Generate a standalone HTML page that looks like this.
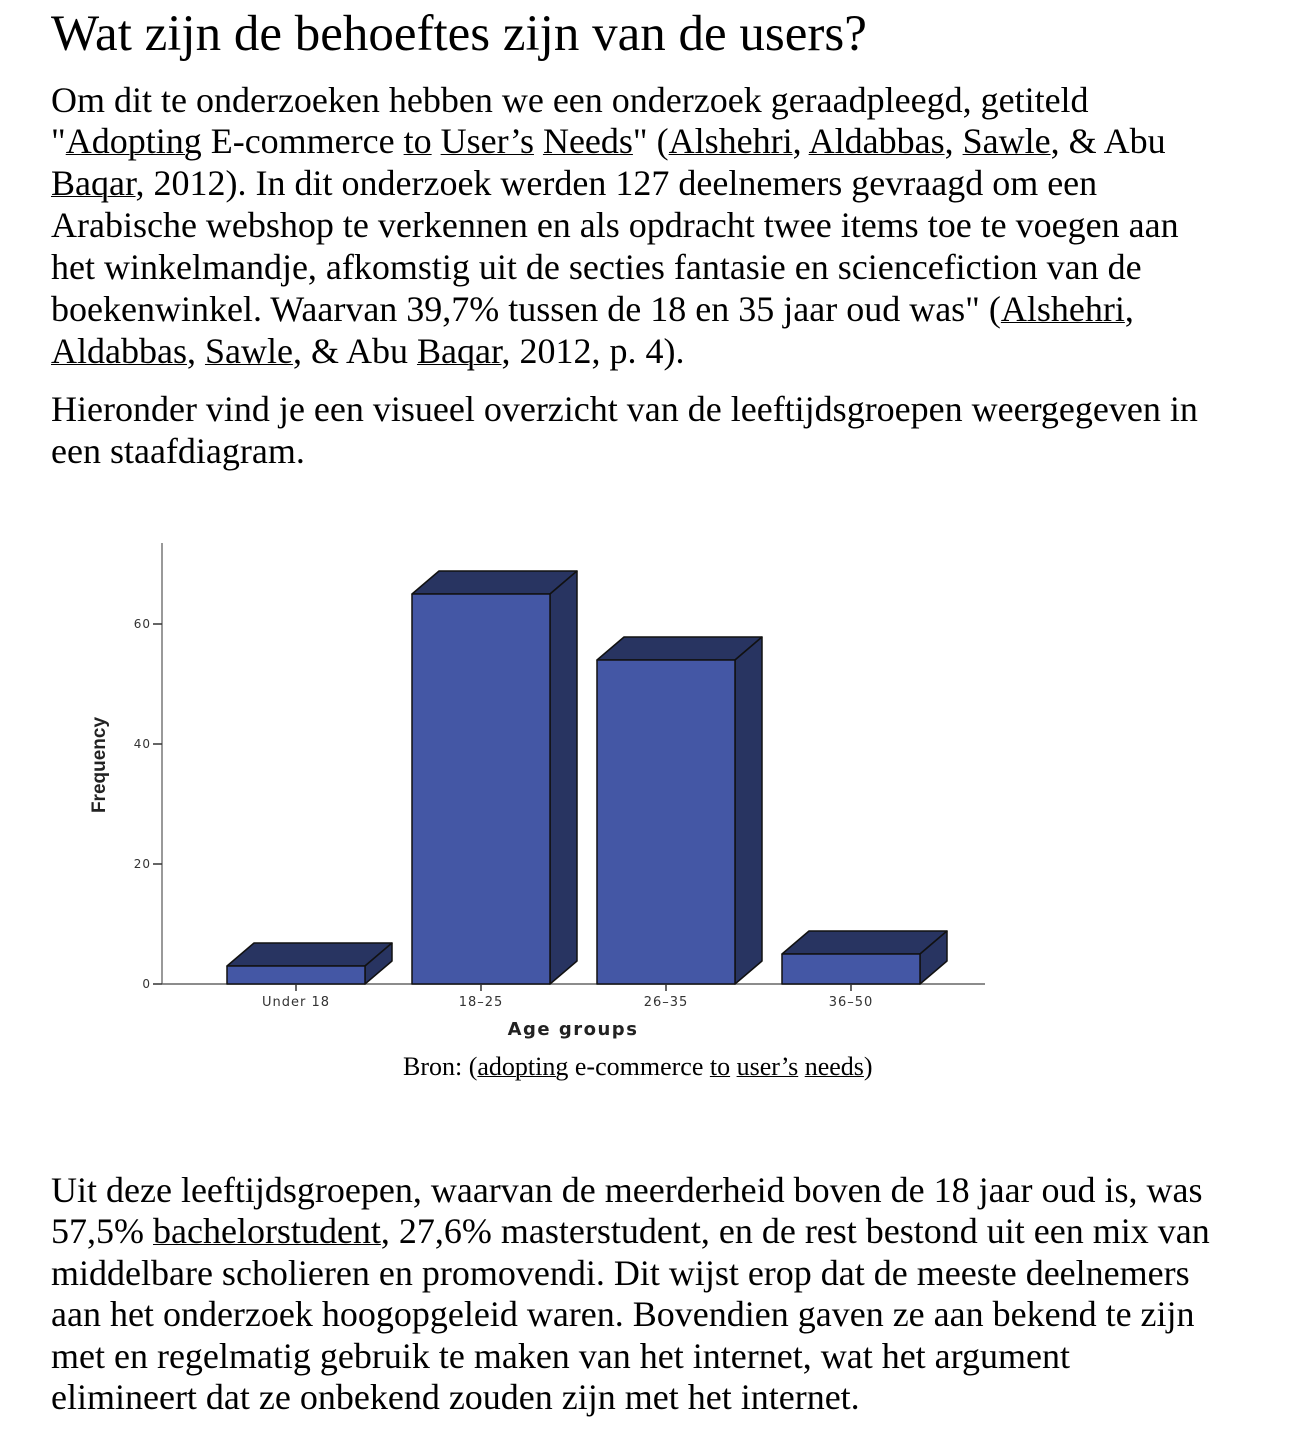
<!DOCTYPE html>
<html><head><meta charset="utf-8"><style>
body{margin:0;width:1290px;height:1430px;background:#fff;position:relative;overflow:hidden;font-family:"Liberation Serif",serif;color:#000}
.l{position:absolute;left:51px;font-size:36px;white-space:nowrap;line-height:36px}
.u{text-decoration:underline;text-decoration-color:#000;text-decoration-thickness:1px}
h1{position:absolute;left:51px;top:4px;margin:0;font-weight:normal;font-size:51px;line-height:60px;white-space:nowrap}
</style></head><body>
<h1>Wat zijn de behoeftes zijn van de users?</h1>
<div>
<div class="l" style="top:82px">Om dit te onderzoeken hebben we een onderzoek geraadpleegd, getiteld</div>
<div class="l" style="top:123px">"<span class="u">Adopting</span> E-commerce <span class="u">to</span> <span class="u">User’s</span> <span class="u">Needs</span>" (<span class="u">Alshehri</span>, <span class="u">Aldabbas</span>, <span class="u">Sawle</span>, &amp; Abu</div>
<div class="l" style="top:165px"><span class="u">Baqar</span>, 2012). In dit onderzoek werden 127 deelnemers gevraagd om een</div>
<div class="l" style="top:207px">Arabische webshop te verkennen en als opdracht twee items toe te voegen aan</div>
<div class="l" style="top:249px">het winkelmandje, afkomstig uit de secties fantasie en sciencefiction van de</div>
<div class="l" style="top:291px">boekenwinkel. Waarvan 39,7% tussen de 18 en 35 jaar oud was" (<span class="u">Alshehri</span>,</div>
<div class="l" style="top:333px"><span class="u">Aldabbas</span>, <span class="u">Sawle</span>, &amp; Abu <span class="u">Baqar</span>, 2012, p. 4).</div>
</div>
<div>
<div class="l" style="top:391px">Hieronder vind je een visueel overzicht van de leeftijdsgroepen weergegeven in</div>
<div class="l" style="top:433px">een staafdiagram.</div>
</div>
<svg id="chart" style="position:absolute;left:0;top:0" width="1290" height="1100"></svg>
<div style="position:absolute;left:403px;top:1052px;font-size:26px;line-height:30px;white-space:nowrap">Bron: (<span class="u">adopting</span> e-commerce <span class="u">to</span> <span class="u">user’s</span> <span class="u">needs</span>)</div>
<div>
<div class="l" style="top:1172px">Uit deze leeftijdsgroepen, waarvan de meerderheid boven de 18 jaar oud is, was</div>
<div class="l" style="top:1213px">57,5% <span class="u">bachelorstudent</span>, 27,6% masterstudent, en de rest bestond uit een mix van</div>
<div class="l" style="top:1255px">middelbare scholieren en promovendi. Dit wijst erop dat de meeste deelnemers</div>
<div class="l" style="top:1296px">aan het onderzoek hoogopgeleid waren. Bovendien gaven ze aan bekend te zijn</div>
<div class="l" style="top:1338px">met en regelmatig gebruik te maken van het internet, wat het argument</div>
<div class="l" style="top:1379px">elimineert dat ze onbekend zouden zijn met het internet.</div>
</div>
<script>
const categories=["Under 18","18–25","26–35","36–50"];
const values=[3,65,54,5];
const yTicks=[0,20,40,60];
const svg=document.getElementById('chart');
const NS='http://www.w3.org/2000/svg';
const x0=162,y0=984,ppu=6,step=185,firstC=296,bw=138,dx=27,dy=23;
const yS=v=>y0-v*ppu;
const xC=i=>firstC+i*step;
function mk(t,a){const e=document.createElementNS(NS,t);for(const k in a)e.setAttribute(k,a[k]);svg.appendChild(e);return e;}
let e=mk('line',{x1:x0,y1:543,x2:x0,y2:y0,stroke:'#999','stroke-width':2});

e=mk('line',{x1:x0,y1:y0,x2:985,y2:y0,stroke:'#666','stroke-width':1.5});

yTicks.forEach(v=>{
 let t=mk('line',{x1:x0-9,y1:yS(v),x2:x0,y2:yS(v),stroke:'#333','stroke-width':1.5});
 
 let l=mk('text',{x:x0-11,y:yS(v)+4,'text-anchor':'end','font-size':12,'font-family':'DejaVu Sans, sans-serif',fill:'#333','letter-spacing':'1'});
 l.textContent=v;
});
categories.forEach((c,i)=>{
 const xl=xC(i)-bw/2,xr=xl+bw,yt=yS(values[i]);
 let g=mk('g',{});
 const st={stroke:'#111','stroke-width':1.5,'stroke-linejoin':'round'};
 const p1=document.createElementNS(NS,'polygon');
 p1.setAttribute('points',`${xl},${yt} ${xl+dx},${yt-dy} ${xr+dx},${yt-dy} ${xr},${yt}`);
 p1.setAttribute('fill','#283461');for(const k in st)p1.setAttribute(k,st[k]);g.appendChild(p1);
 const p2=document.createElementNS(NS,'polygon');
 p2.setAttribute('points',`${xr},${yt} ${xr+dx},${yt-dy} ${xr+dx},${y0-dy} ${xr},${y0}`);
 p2.setAttribute('fill','#283461');for(const k in st)p2.setAttribute(k,st[k]);g.appendChild(p2);
 const r=document.createElementNS(NS,'rect');
 r.setAttribute('x',xl);r.setAttribute('y',yt);r.setAttribute('width',bw);r.setAttribute('height',y0-yt);
 r.setAttribute('fill','#4457a5');for(const k in st)r.setAttribute(k,st[k]);g.appendChild(r);
 let t=mk('line',{x1:xC(i),y1:y0,x2:xC(i),y2:y0+7,stroke:'#333','stroke-width':1.5});
 
 let l=mk('text',{x:xC(i),y:y0+22,'text-anchor':'middle','font-size':13,'font-family':'DejaVu Sans, sans-serif',fill:'#333','letter-spacing':'1'});
 l.textContent=c;
});
e=mk('text',{x:573,y:1035,'text-anchor':'middle','font-size':18,'font-weight':'bold','font-family':'DejaVu Sans, sans-serif',fill:'#222','letter-spacing':'1.5'});
e.textContent='Age groups';
e=mk('text',{x:0,y:0,transform:'translate(105,765) rotate(-90)','text-anchor':'middle','font-size':19,'font-weight':'bold','font-family':'Liberation Sans Narrow, Liberation Sans, sans-serif',fill:'#222'});
e.textContent='Frequency';
</script>
</body></html>
